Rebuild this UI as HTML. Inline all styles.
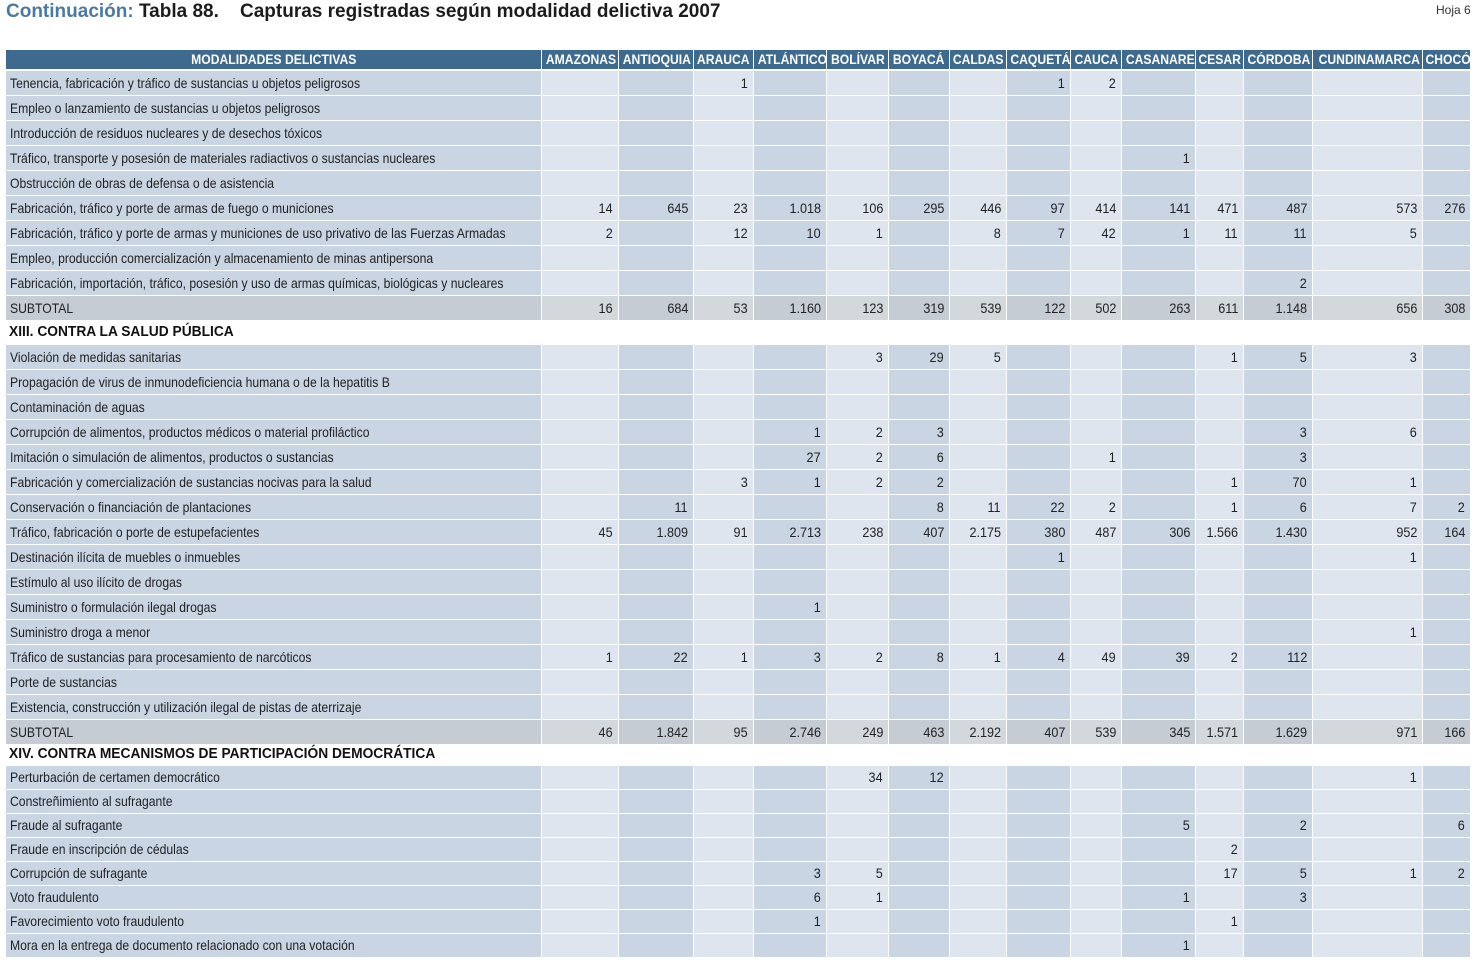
<!DOCTYPE html>
<html><head><meta charset="utf-8"><style>
body{margin:0;width:1479px;height:960px;background:#fff;position:relative;overflow:hidden;font-family:"Liberation Sans",sans-serif;}
.t{position:absolute;white-space:nowrap;}
.c{position:absolute;box-sizing:border-box;border-right:1px solid #fff;border-bottom:1px solid #fff;font-size:14px;color:#222;white-space:nowrap;overflow:hidden;}
.c span{display:inline-block;transform:scaleX(0.87);}
.h{background:#3d6a8e;color:#fff;font-weight:bold;font-size:13.5px;text-align:center;overflow:visible;}
.h span{transform:scaleX(0.9);transform-origin:center;}
.num{text-align:right;padding-right:5px;}
.num span{transform-origin:right center;transform:scaleX(0.9);}
.lab{padding-left:4px;}
.lab span{transform-origin:left center;}
.sec{position:absolute;font-weight:bold;font-size:14.5px;color:#111;left:9px;white-space:nowrap;transform:scaleX(0.95);transform-origin:left center;}
</style></head><body>
<div class="t" style="left:6px;top:1px;font-size:19px;"><span style="color:#4a7aa2;font-weight:bold">Continuación:</span> <b style="color:#1c1c1c">Tabla 88.</b>&nbsp;&nbsp;&nbsp;&nbsp;<b style="color:#1c1c1c">Capturas registradas según modalidad delictiva 2007</b></div>
<div class="t" style="left:1436px;top:3px;font-size:12px;color:#333">Hoja 6</div>
<div id="tbl"></div>
<script>
const colEdges=[6,542,619,694,754,827,889,950,1007,1071,1122,1196,1244,1313,1423,1471];
const headers=["MODALIDADES DELICTIVAS","AMAZONAS","ANTIOQUIA","ARAUCA","ATLÁNTICO","BOLÍVAR","BOYACÁ","CALDAS","CAQUETÁ","CAUCA","CASANARE","CESAR","CÓRDOBA","CUNDINAMARCA","CHOCÓ"];
const sec1Labels=["Tenencia, fabricación y tráfico de sustancias u objetos peligrosos","Empleo o lanzamiento de sustancias u objetos peligrosos","Introducción de residuos nucleares y de desechos tóxicos","Tráfico, transporte y posesión de materiales radiactivos o sustancias nucleares","Obstrucción de obras de defensa o de asistencia","Fabricación, tráfico y porte de armas de fuego o municiones","Fabricación, tráfico y porte de armas y municiones de uso privativo de las Fuerzas Armadas","Empleo, producción comercialización y almacenamiento de minas antipersona","Fabricación, importación, tráfico, posesión y uso de armas químicas, biológicas y nucleares","SUBTOTAL"];
const sec1Values=[
["","","1","","","","","1","2","","","","",""],
["","","","","","","","","","","","","",""],
["","","","","","","","","","","","","",""],
["","","","","","","","","","1","","","",""],
["","","","","","","","","","","","","",""],
["14","645","23","1.018","106","295","446","97","414","141","471","487","573","276"],
["2","","12","10","1","","8","7","42","1","11","11","5",""],
["","","","","","","","","","","","","",""],
["","","","","","","","","","","","2","",""],
["16","684","53","1.160","123","319","539","122","502","263","611","1.148","656","308"]];
const sec2Title="XIII. CONTRA LA SALUD PÚBLICA";
const sec2Labels=["Violación de medidas sanitarias","Propagación de virus de inmunodeficiencia humana o de la hepatitis B","Contaminación de aguas","Corrupción de alimentos, productos médicos o material profiláctico","Imitación o simulación de alimentos, productos o sustancias","Fabricación y comercialización de sustancias nocivas para la salud","Conservación o financiación de plantaciones","Tráfico, fabricación o porte de estupefacientes","Destinación ilícita de muebles o inmuebles","Estímulo al uso ilícito de drogas","Suministro o formulación ilegal drogas","Suministro droga a menor","Tráfico de sustancias para procesamiento de narcóticos","Porte de sustancias","Existencia, construcción y utilización ilegal de pistas de aterrizaje","SUBTOTAL"];
const sec2Values=[
["","","","","3","29","5","","","","1","5","3",""],
["","","","","","","","","","","","","",""],
["","","","","","","","","","","","","",""],
["","","","1","2","3","","","","","","3","6",""],
["","","","27","2","6","","","1","","","3","",""],
["","","3","1","2","2","","","","","1","70","1",""],
["","11","","","","8","11","22","2","","1","6","7","2"],
["45","1.809","91","2.713","238","407","2.175","380","487","306","1.566","1.430","952","164"],
["","","","","","","","1","","","","","1",""],
["","","","","","","","","","","","","",""],
["","","","1","","","","","","","","","",""],
["","","","","","","","","","","","","1",""],
["1","22","1","3","2","8","1","4","49","39","2","112","",""],
["","","","","","","","","","","","","",""],
["","","","","","","","","","","","","",""],
["46","1.842","95","2.746","249","463","2.192","407","539","345","1.571","1.629","971","166"]];
const sec3Title="XIV. CONTRA MECANISMOS DE PARTICIPACIÓN DEMOCRÁTICA";
const sec3Labels=["Perturbación de certamen democrático","Constreñimiento al sufragante","Fraude al sufragante","Fraude en inscripción de cédulas","Corrupción de sufragante","Voto fraudulento","Favorecimiento voto fraudulento","Mora en la entrega de documento relacionado con una votación"];
const sec3Values=[
["","","","","34","12","","","","","","","1",""],
["","","","","","","","","","","","","",""],
["","","","","","","","","","5","","2","","6"],
["","","","","","","","","","","2","","",""],
["","","","3","5","","","","","","17","5","1","2"],
["","","","6","1","","","","","1","","3","",""],
["","","","1","","","","","","","1","","",""],
["","","","","","","","","","1","","","",""]];

const root=document.getElementById('tbl');
function cell(x,y,w,h,cls,txt,bg){const d=document.createElement('div');d.className='c '+cls;d.style.left=x+'px';d.style.top=y+'px';d.style.width=w+'px';d.style.height=h+'px';d.style.lineHeight=(h-1)+'px';if(bg)d.style.background=bg;const s=document.createElement('span');s.textContent=txt;d.appendChild(s);root.appendChild(d);return d;}
headers.forEach((t,i)=>{const d=cell(colEdges[i],50,colEdges[i+1]-colEdges[i],20,'h',t);

});
function bgFor(i,sub){if(sub)return i%2===0?'#c6ccd3':'#d3d8dd';return i%2===0?'#c9d5e3':'#dfe5ee';}
function rows(labels,values,y0,h){labels.forEach((lab,r)=>{const y=y0+r*h;const sub=lab==='SUBTOTAL';
const l=cell(colEdges[0],y,colEdges[1]-colEdges[0],h,'lab',lab,bgFor(0,sub));


values[r].forEach((v,i)=>{const d=cell(colEdges[i+1],y,colEdges[i+2]-colEdges[i+1],h,'num',v,bgFor(i+1,sub));

});});}
function section(t,y){const d=document.createElement('div');d.className='sec';d.style.top=y+'px';d.textContent=t;


root.appendChild(d);}
rows(sec1Labels,sec1Values,71,25);
section(sec2Title,324);
rows(sec2Labels,sec2Values,345,25);
section(sec3Title,746);
rows(sec3Labels,sec3Values,766,24);
</script>
</body></html>
